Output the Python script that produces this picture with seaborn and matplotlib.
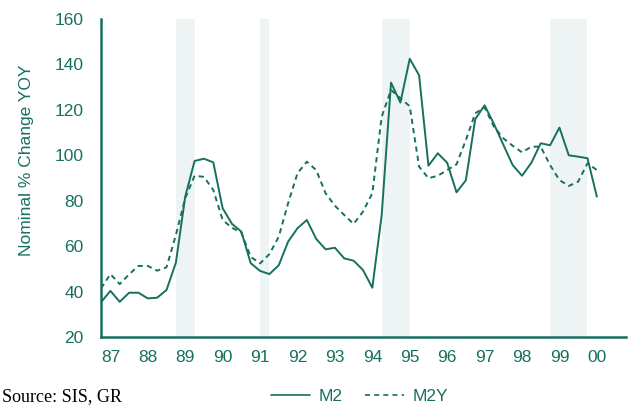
import numpy as np
import pandas as pd
import matplotlib
matplotlib.use("Agg")
import matplotlib.pyplot as plt
import seaborn as sns
from matplotlib.lines import Line2D

# quarterly points, first one is 86.75 (one quarter before the '87' tick)
quarters = np.arange(54) * 0.25 + 86.75

m2 = [35.3, 40.3, 35.5, 39.5, 39.5, 37.0, 37.3, 40.7, 52.7, 81.8,
      97.5, 98.5, 96.9, 76.7, 69.8, 66.4, 52.5, 49.1, 47.7, 51.6,
      62.0, 67.9, 71.5, 63.2, 58.6, 59.3, 54.6, 53.6, 49.5, 41.7,
      73.7, 132.0, 123.2, 142.5, 135.2, 95.4, 100.9, 96.7, 83.7, 89.0,
      115.9, 122.0, 113.8, 104.7, 95.7, 91.0, 96.7, 105.3, 104.4, 112.2,
      100.0, 99.4, 98.7, 81.8]

m2y = [41.4, 47.7, 43.3, 47.6, 51.3, 51.3, 49.2, 50.7, 64.9, 81.1,
       91.0, 90.5, 84.7, 71.5, 68.1, 65.9, 55.3, 52.4, 56.5, 64.2,
       78.9, 92.1, 97.2, 93.5, 83.3, 77.8, 73.7, 69.8, 75.2, 83.3,
       117.0, 128.8, 125.1, 121.6, 95.0, 89.9, 91.0, 93.5, 96.0, 106.7,
       118.5, 121.1, 112.6, 107.5, 104.2, 101.3, 103.8, 103.8, 95.7, 89.1,
       86.5, 88.4, 96.5, 93.5]

shaded = [(88.75, 89.25), (91.0, 91.25), (94.25, 95.0), (98.75, 99.75)]
years = list(range(87, 101))
year_labels = [f"{y % 100:02d}" for y in years]

teal = "#17705e"

df = pd.DataFrame({
    "t": np.concatenate([quarters, quarters]),
    "value": m2 + m2y,
    "series": ["M2"] * len(m2) + ["M2Y"] * len(m2y),
})

sns.set_style("white")
plt.rcParams["font.family"] = ["Liberation Sans", "DejaVu Sans"]

fig = plt.figure(figsize=(6.33, 4.08), dpi=100)
ax = fig.add_axes([0.1596, 0.174, 0.8294, 0.7794])

for a, b in shaded:
    ax.axvspan(a, b, color="#eef4f4", lw=0, zorder=0)

sns.lineplot(data=df, x="t", y="value", style="series",
             dashes={"M2": "", "M2Y": (2.7, 2.1)}, color=teal, lw=1.4,
             legend=False, ax=ax)

ax.set_xlim(86.75, 100.78)
ax.set_ylim(20, 160)
ax.set_yticks(range(20, 161, 20))
ax.set_xticks(years)
ax.set_xticklabels(year_labels)
ax.set_xticks(np.arange(86.75, 100.8, 0.25), minor=True)

ax.set_xlabel("")
ax.set_ylabel("Nominal % Change YOY", color=teal, fontsize=12.5)
ax.yaxis.set_label_coords(-0.128, 0.557)

for side in ["top", "right"]:
    ax.spines[side].set_visible(False)
for side in ["left", "bottom"]:
    ax.spines[side].set_color(teal)
    ax.spines[side].set_linewidth(1.8)

ax.tick_params(axis="both", which="both", colors=teal, labelcolor=teal,
               labelsize=12.5, direction="out", width=1.2, length=6.5)
ax.tick_params(axis="y", pad=6)
ax.tick_params(axis="x", pad=3)

handles = [Line2D([], [], color=teal, lw=1.2),
           Line2D([], [], color=teal, lw=1.2, dashes=(3, 2.5))]
fig.legend(handles, ["M2", "M2Y"], loc="center", bbox_to_anchor=(0.568, 0.028),
           ncol=2, frameon=False, fontsize=12.5, labelcolor=teal,
           handlelength=2.25, columnspacing=1.3, handletextpad=0.5)

fig.text(0.003, 0.028, "Source: SIS, GR", family="Liberation Serif",
         fontsize=13, va="center", ha="left", color="black")

fig.savefig("out.png", dpi=100)
